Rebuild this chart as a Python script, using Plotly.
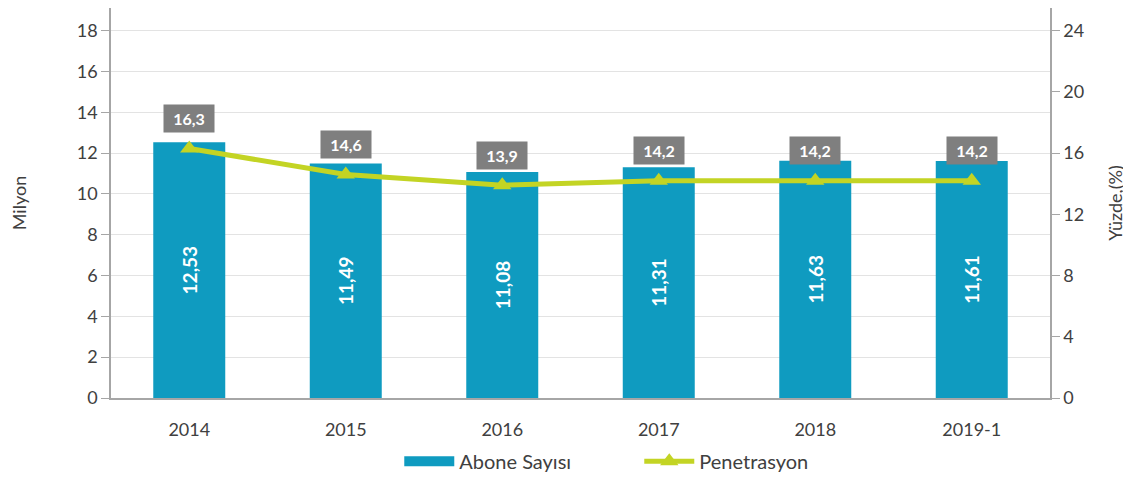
import plotly.graph_objects as go

categories = ["2014", "2015", "2016", "2017", "2018", "2019-1"]
abone = [12.53, 11.49, 11.08, 11.31, 11.63, 11.61]
abone_labels = ["12,53", "11,49", "11,08", "11,31", "11,63", "11,61"]
penetrasyon = [16.3, 14.6, 13.9, 14.2, 14.2, 14.2]
pen_labels = ["16,3", "14,6", "13,9", "14,2", "14,2", "14,2"]

FONT = "Lato"
BAR_COLOR = "#0f9bc0"
LINE_COLOR = "#c3d424"
TEXT_COLOR = "#404040"

xpos = list(range(len(categories)))

fig = go.Figure()
fig.add_trace(go.Bar(
    x=xpos, y=abone, name="Abone Sayısı",
    marker=dict(color=BAR_COLOR, line=dict(width=0)),
    width=0.46, showlegend=False,
    text=["<b>" + s + "</b>" for s in abone_labels],
    textposition="inside", textangle=-90,
    insidetextanchor="middle",
    textfont=dict(color="white", size=19, family=FONT),
))
# legend entry for bars (wide rectangle swatch)
fig.add_trace(go.Scatter(
    x=[xpos[0]], y=[None], name="Abone Sayısı", mode="lines",
    line=dict(color=BAR_COLOR, width=12), showlegend=True, hoverinfo="skip",
))
fig.add_trace(go.Scatter(
    x=xpos, y=penetrasyon, name="Penetrasyon", yaxis="y2",
    mode="lines+markers",
    line=dict(color=LINE_COLOR, width=5),
    marker=dict(symbol="triangle-up", size=16, color=LINE_COLOR),
))

for xi, v, t in zip(xpos, penetrasyon, pen_labels):
    fig.add_annotation(
        x=xi, y=v, xref="x", yref="y2", text="<b>" + t + "</b>",
        showarrow=False, yshift=30,
        bgcolor="#7f7f7f", font=dict(color="white", size=16, family=FONT),
        borderpad=4, width=42,
    )

fig.update_layout(
    width=1123, height=473,
    margin=dict(l=103, r=81, t=0, b=83),
    plot_bgcolor="white", paper_bgcolor="white",
    font=dict(family=FONT, size=18, color=TEXT_COLOR),
    xaxis=dict(
        range=[-0.5, len(categories) - 0.5],
        tickvals=xpos, ticktext=categories,
        showline=True, linecolor="#a6a6a6", linewidth=1.5,
        showgrid=False, zeroline=False, automargin=False,
        ticks="", tickfont=dict(size=18), ticklabelstandoff=15,
    ),
    yaxis=dict(
        range=[0, 19.11], tickvals=[0, 2, 4, 6, 8, 10, 12, 14, 16, 18],
        showgrid=True, gridcolor="#e3e3e3", gridwidth=1,
        showline=True, linecolor="#a6a6a6", linewidth=1.5,
        ticks="outside", ticklen=8, tickcolor="#a6a6a6",
        zeroline=False, tickfont=dict(size=18), automargin=False,
        title=dict(text="Milyon", font=dict(size=18), standoff=49),
    ),
    yaxis2=dict(
        range=[0, 25.48], tickvals=[0, 4, 8, 12, 16, 20, 24],
        overlaying="y", side="right", showgrid=False,
        showline=True, linecolor="#a6a6a6", linewidth=1.5,
        ticks="outside", ticklen=8, tickcolor="#a6a6a6",
        zeroline=False, tickfont=dict(size=18), automargin=False,
        title=dict(text="Yüzde,(%)", font=dict(size=18), standoff=26),
    ),
    legend=dict(
        orientation="h", x=0.307, xanchor="left", y=-0.112, yanchor="top",
        font=dict(size=20), itemwidth=50,
        entrywidthmode="pixels", entrywidth=175,
    ),
    showlegend=True,
)

fig.write_html("out.html")
